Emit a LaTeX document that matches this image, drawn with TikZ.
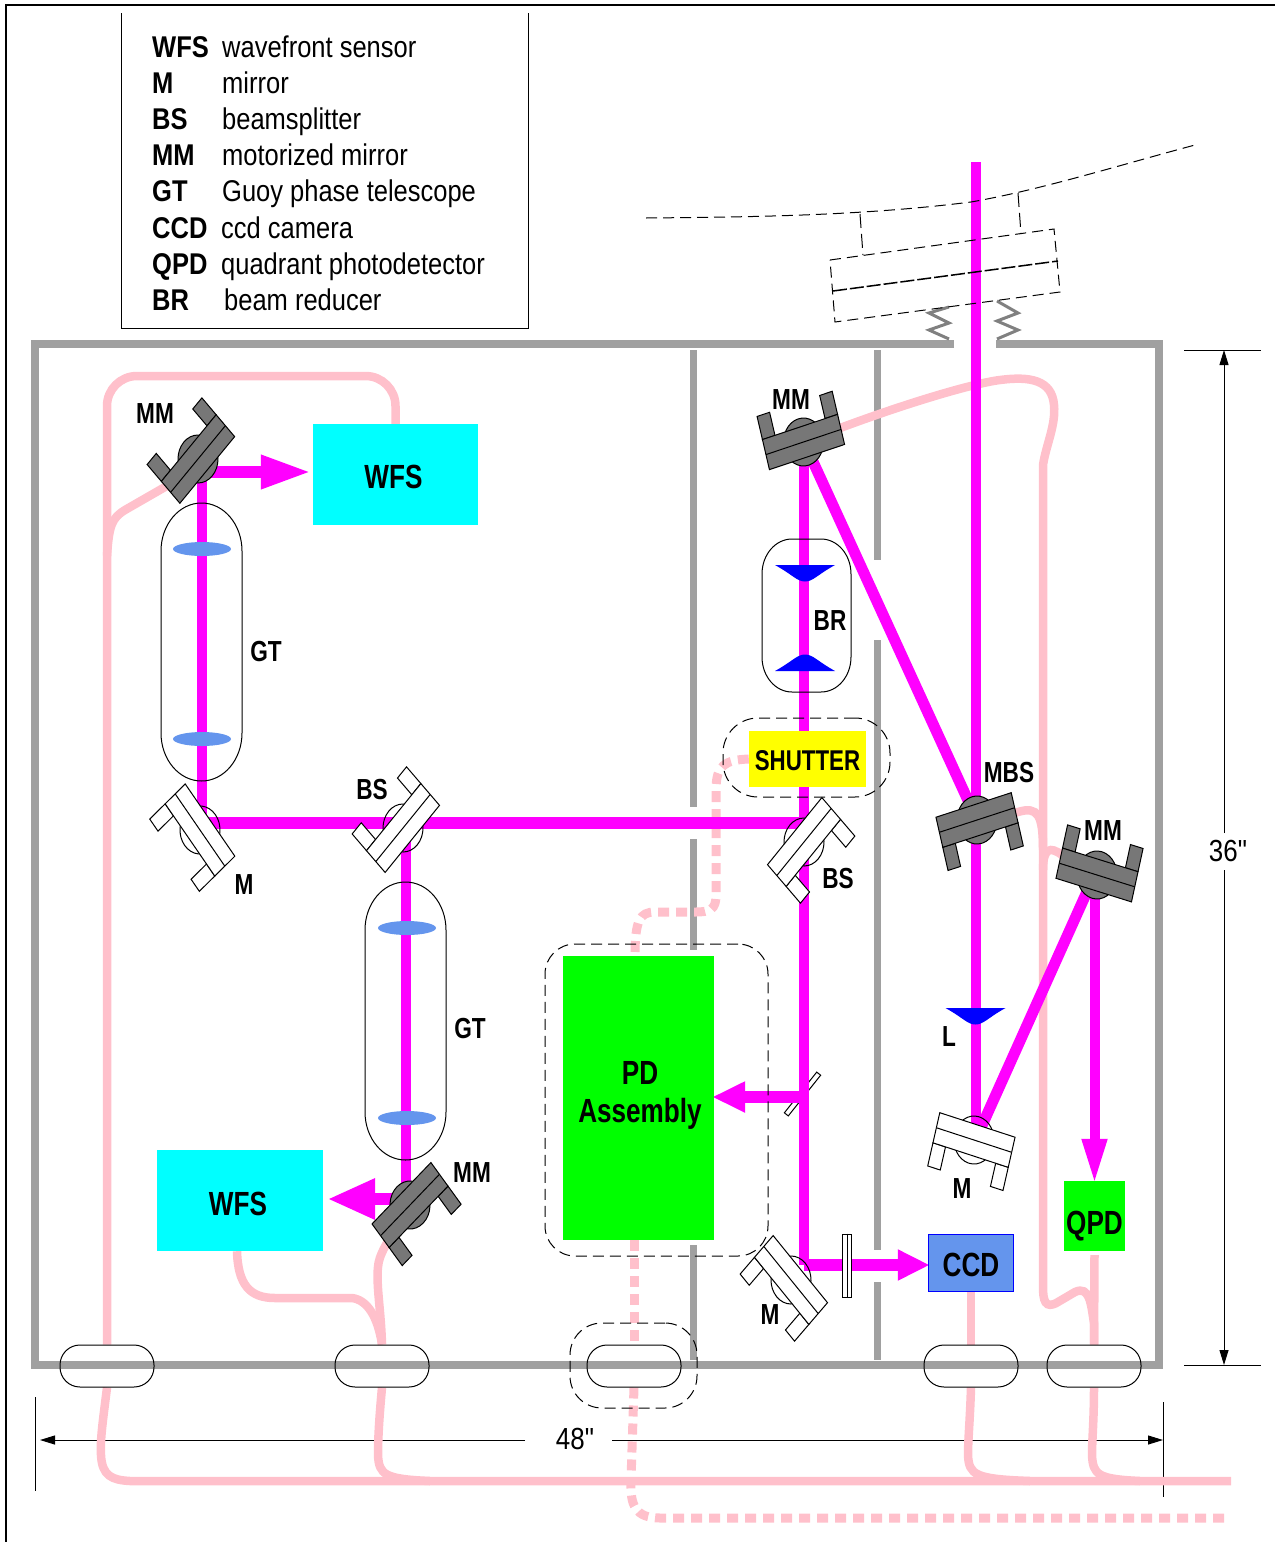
\documentclass[tikz,border=0pt]{standalone}
\usepackage{fontspec}
\setmainfont[FakeStretch=0.85]{Liberation Sans}
\newfontfamily\tallfont[FakeStretch=0.78]{Liberation Sans}
\newfontfamily\dimfont[FakeStretch=0.85]{Liberation Sans}
\usetikzlibrary{arrows.meta,backgrounds}

\definecolor{wallgray}{HTML}{A0A0A0}
\definecolor{mountgray}{HTML}{777777}
\definecolor{fibrepink}{HTML}{FFC0CB}
\definecolor{lensblue}{HTML}{6495ED}
\definecolor{beammagenta}{HTML}{FF00FF}
\definecolor{wfscyan}{HTML}{00FFFF}
\definecolor{pdgreen}{HTML}{00FF00}
\definecolor{pureyellow}{HTML}{FFFF00}
\definecolor{pureblue}{HTML}{0000FF}

\tikzset{
  thinline/.style={black,line width=1pt},
  wall/.style={wallgray,line width=8pt},
  innerwall/.style={wallgray,line width=7pt},
  fibre/.style={fibrepink,line width=8.5pt},
  dashfibre/.style={fibrepink,line width=9pt,dash pattern=on 11pt off 7pt},
  beam/.style={beammagenta,line width=10pt},
  wbeam/.style={beammagenta,line width=12pt},
  dimline/.style={black,line width=1pt},
  dimarrow/.style={black,line width=1pt,-{Triangle[length=15pt,width=9pt]}},
  dashframe/.style={draw,black,line width=1pt,dash pattern=on 11pt off 6pt},
  devicebox/.style={inner sep=0pt,font=\fontsize{33.5}{38}\tallfont\bfseries,align=center},
  partlabel/.style={inner sep=0pt,text height=22.8pt,text depth=0pt,font=\fontsize{29}{32}\tallfont\bfseries},
  feedbox/.style={draw,black,line width=1pt,rounded corners=20pt,minimum width=94pt,minimum height=42pt},
  legendkey/.style={anchor=base west,inner sep=0pt,font=\fontsize{30}{36}\selectfont\bfseries},
  legendtext/.style={anchor=base west,inner sep=0pt,font=\fontsize{30}{36}\selectfont},
  whiteplate/.style={draw=black,line width=1pt,fill=white},
  whitedisc/.style={draw=black,line width=1pt},
  grayplate/.style={draw=black,line width=1pt,fill=mountgray},
  graydisc/.style={draw=black,line width=1pt,fill=mountgray},
}

% name, centre, angle, white or gray
\newcommand{\mirrormount}[4]{
  \coordinate (#1) at (#2);
  \begin{scope}[shift={(#2)},yscale=1.2,rotate=#3]
    \draw[#4disc] (0,0) circle (20pt);
    \draw[#4plate] (-39,-33) rectangle (-26,-13);
    \draw[#4plate] (39,-33) rectangle (26,-13);
    \draw[#4plate] (-39,-13) rectangle (39,13);
    \draw[#4plate] (-39,0) -- (39,0);
  \end{scope}
}
% left, top, right, bottom, corner radii
\newcommand{\tubeoutline}[6]{
  \draw[thinline] ({#1},{#2+#6}) arc[start angle=180,end angle=90,x radius=#5pt,y radius=#6pt]
    -- ({#3-#5},#2) arc[start angle=90,end angle=0,x radius=#5pt,y radius=#6pt]
    -- (#3,{#4-#6}) arc[start angle=0,end angle=-90,x radius=#5pt,y radius=#6pt]
    -- ({#1+#5},#4) arc[start angle=-90,end angle=-180,x radius=#5pt,y radius=#6pt] -- cycle;
}
% centre of flat side, 1 bulges down, -1 bulges up
\newcommand{\lenscap}[2]{
  \begin{scope}[shift={(#1)},yscale=#2]
    \fill[pureblue] (-30,0) -- (30,0) .. controls (12,10) and (8,16.5) .. (0,16.5) .. controls (-8,16.5) and (-12,10) .. (-30,0) -- cycle;
  \end{scope}
}

\begin{document}
\begin{tikzpicture}[x=1pt,y=-1pt]

  \useasboundingbox (0,0) rectangle (1275,1542);

  % page edge
  \draw[black,line width=2pt] (6,1542) -- (6,5) -- (1275,5);

  % legend
  \draw[thinline] (121,13) -- (121,328) -- (528,328) -- (528,13);
  \node[legendkey] (keywfs) at (152,57.5) {WFS};
  \node[legendtext] (txtwfs) at (222,57.5) {wavefront sensor};
  \node[legendkey] (keym) at (152,93.5) {M};
  \node[legendtext] (txtm) at (222,93.5) {mirror};
  \node[legendkey] (keybs) at (152,129.5) {BS};
  \node[legendtext] (txtbs) at (222,129.5) {beamsplitter};
  \node[legendkey] (keymm) at (152,165.5) {MM};
  \node[legendtext] (txtmm) at (222,165.5) {motorized mirror};
  \node[legendkey] (keygt) at (152,201.5) {GT};
  \node[legendtext] (txtgt) at (222,201.5) {Guoy phase telescope};
  \node[legendkey] (keyccd) at (152,238.5) {CCD};
  \node[legendtext] (txtccd) at (221,238.5) {ccd camera};
  \node[legendkey] (keyqpd) at (152,274.5) {QPD};
  \node[legendtext] (txtqpd) at (221,274.5) {quadrant photodetector};
  \node[legendkey] (keybr) at (152,310.5) {BR};
  \node[legendtext] (txtbr) at (224,310.5) {beam reducer};

  % table above the box, all dashed
  \draw[thinline,dash pattern=on 11pt off 6pt] (646,218) .. controls (750,217) and (860,216) .. (971,202) .. controls (1040,190) and (1120,165) .. (1195,145);
  \draw[thinline,dash pattern=on 14pt off 6pt] (860,214) -- (863,255);
  \draw[thinline,dash pattern=on 14pt off 6pt] (1018,193) -- (1021,234);
  \draw[thinline,dash pattern=on 11pt off 6pt] (830,260) -- (1054,229) -- (1060,292) -- (835,322) -- cycle;
  \draw[black,line width=1.5pt,dash pattern=on 14pt off 3pt] (833,291) -- (1058,261);

  % feedthroughs
  \node[feedbox] (feeda) at (107,1366) {};
  \node[feedbox] (feedb) at (382,1366) {};
  \node[feedbox] (feedc) at (634,1366) {};
  \node[feedbox] (feedd) at (971,1366) {};
  \node[feedbox] (feede) at (1094,1366) {};

  % dashed enclosures
  \node[dashframe,rounded corners=30pt,minimum width=223pt,minimum height=312pt] (pdframe) at (656.5,1100) {};
  \node[dashframe,rounded corners=35pt,minimum width=167pt,minimum height=79pt] (shutterframe) at (806.5,757.5) {};
  \node[dashframe,rounded corners=32pt,minimum width=127pt,minimum height=85pt] (feedframe) at (633.5,1365.5) {};

  % devices
  \node[devicebox,fill=wfscyan,text height=29pt,minimum width=165pt,minimum height=101pt] (wfsa) at (395.5,474.5) {\hspace*{-4pt}WFS};
  \node[devicebox,fill=wfscyan,text height=31pt,minimum width=166pt,minimum height=101pt] (wfsb) at (240,1200.5) {\hspace*{-4pt}WFS};
  \node[devicebox,fill=pdgreen,minimum width=151pt,minimum height=284pt] (pd) at (638.5,1098) {};
  \node[devicebox] (pdtext) at (640,1095) {PD\\Assembly};
  \node[devicebox,fill=pureyellow,text height=24pt,minimum width=117pt,minimum height=56pt,font=\fontsize{28.6}{30}\tallfont\bfseries] (shutter) at (807.5,759) {SHUTTER};
  \node[devicebox,draw=pureblue,line width=1.5pt,fill=lensblue,text height=28pt,minimum width=85pt,minimum height=57pt] (ccd) at (971,1263) {CCD};
  \node[devicebox,fill=pdgreen,text height=44pt,minimum width=61pt,minimum height=70pt] (qpd) at (1094.5,1216) {QPD};

  % junctions of the beams and cable ends
  \coordinate (ja) at (202,472);
  \coordinate (jb) at (202,823);
  \coordinate (jc) at (406,823);
  \coordinate (jd) at (804,823);
  \coordinate (je) at (406,1199);
  \coordinate (jf) at (804,442);
  \coordinate (jg) at (804,1265);
  \coordinate (jh) at (975.5,162);
  \coordinate (ji) at (975.5,1140);
  \coordinate (jj) at (1094.5,875);
  \coordinate (jk) at (804,1097);
  \coordinate (fibreend) at (1231,1481);
  \coordinate (dashend) at (1227,1518);

  % telescopes and lenses
  \tubeoutline{161}{503}{242}{781}{40.5}{48}
  \tubeoutline{365}{882}{446}{1160}{40.5}{48}
  \tubeoutline{762}{539}{851}{692}{30}{35}
  \fill[lensblue] (202,549) ellipse (29pt and 7pt);
  \fill[lensblue] (202,739) ellipse (29pt and 7pt);
  \fill[lensblue] (407,928) ellipse (29pt and 7pt);
  \fill[lensblue] (407,1118) ellipse (29pt and 7pt);
  \lenscap{805,565}{1}
  \lenscap{805,671}{-1}
  \lenscap{975.5,1008}{1}

  % waveplate
  \node[draw,black,fill=white,line width=1pt,inner sep=0pt,minimum width=9pt,minimum height=63pt] (waveplate) at (847,1265.5) {};
  \draw[thinline] (waveplate.north) -- (waveplate.south);

  % mirrors
  \mirrormount{mma}{198,459}{45.4}{gray}
  \mirrormount{ma}{200,830}{129.5}{white}
  \mirrormount{bsa}{403,828}{45.8}{white}
  \mirrormount{bsb}{804,842}{225.8}{white}
  \mirrormount{mmb}{803.5,442}{15.6}{gray}
  \mirrormount{mbs}{977,820}{195.2}{gray}
  \mirrormount{mmc}{1097,875}{-14.6}{gray}
  \mirrormount{mb}{974,1140}{164.8}{white}
  \mirrormount{mc}{791,1280}{134.2}{white}
  \mirrormount{mmd}{410,1205}{221}{gray}

  % labels
  \node[partlabel] (lmma) at (155,412) {MM};
  \node[partlabel] (lgta) at (266,650) {GT};
  \node[partlabel] (lma) at (244,883) {M};
  \node[partlabel] (lbsa) at (372,788) {BS};
  \node[partlabel] (lgtb) at (470,1027) {GT};
  \node[partlabel] (lmmd) at (472,1171) {MM};
  \node[partlabel] (lmmb) at (791,398) {MM};
  \node[partlabel] (lbr) at (830,619) {BR};
  \node[partlabel] (lmbs) at (1009,771) {MBS};
  \node[partlabel] (lmmc) at (1103,829) {MM};
  \node[partlabel] (lbsb) at (838,877) {BS};
  \node[partlabel] (ll) at (949,1035) {L};
  \node[partlabel] (lmb) at (962,1187) {M};
  \node[partlabel] (lmc) at (770,1313) {M};

  % dimensions
  \node[inner sep=0pt,font=\fontsize{30.5}{36}\dimfont] (dimh) at (1228,851) {36"};
  \node[inner sep=0pt,font=\fontsize{30.5}{36}\dimfont] (dimw) at (575,1439) {48"};
  \coordinate (dhtop) at (1224,350);
  \coordinate (dhbot) at (1224,1365);
  \coordinate (dwleft) at (40,1440);
  \coordinate (dwright) at (1163,1440);
  \coordinate (gapa) at (525,1440);
  \coordinate (gapb) at (612,1440);

  \begin{scope}[on background layer]

    \draw[dimline] (1184,350) -- (1261,350);
    \draw[dimline] (1184,1365) -- (1261,1365);
    \draw[dimline] (35,1397) -- (35,1491);
    \draw[dimline] (1163,1402) -- (1163,1497);
    \draw[dimarrow] (dhtop |- dimh.north) ++(0,-7) -- (dhtop);
    \draw[dimarrow] (dhtop |- dimh.south) ++(0,8) -- (dhbot);
    \draw[dimarrow] (gapa) -- (dwleft);
    \draw[dimarrow] (gapb) -- (dwright);

    % box walls
    \draw[wall] (954,344) -- (35,344) -- (35,1365) -- (1159,1365) -- (1159,344) -- (996,344);
    \draw[innerwall] (693,350) -- (693,807);
    \draw[innerwall] (693,839) -- (693,950);
    \draw[innerwall] (693,1245) -- (693,1360);
    \draw[innerwall] (877,350) -- (877,560);
    \draw[innerwall] (877,640) -- (877,1250);
    \draw[innerwall] (877,1282) -- (877,1360);

    % springs
    \draw[gray,line width=3pt] (949,307) -- (929,313) -- (949,323) -- (929,330) -- (949,339);
    \draw[gray,line width=3pt] (997,301) -- (1018,313) -- (997,321) -- (1018,330) -- (997,339);

    % cables
    \draw[fibre,rounded corners=30pt] (feeda.north) -- (107,376) -- (395.5,376) -- (wfsa.north);
    \draw[fibre] (107,556) .. controls (109,525) and (112,518) .. (125,510) -- (165,487) -- (mma);
    \draw[fibre] (feedb.north) .. controls (381,1310) and (376,1285) .. (378,1267) .. controls (379,1255) and (385,1245) .. (mmd);
    \draw[fibre] (wfsb.south -| 237,0) .. controls (238,1285) and (250,1298) .. (275,1298) -- (352,1298) .. controls (368,1300) and (378,1318) .. (feedb.north);
    \draw[fibre] (feeda.south) .. controls (103,1420) and (100,1440) .. (101,1455) .. controls (102,1476) and (112,1480) .. (130,1481) -- (fibreend);
    \draw[fibre] (feedb.south) .. controls (379,1420) and (378,1440) .. (378,1455) .. controls (379,1475) and (385,1479) .. (430,1481);
    \draw[fibre] (ccd.south) -- (feedd.north);
    \draw[fibre] (feedd.south) .. controls (970,1420) and (968,1440) .. (968,1455) .. controls (969,1475) and (975,1479) .. (1030,1481);
    \draw[fibre] (feede.south) .. controls (1094,1420) and (1092,1440) .. (1092,1455) .. controls (1093,1475) and (1098,1479) .. (1140,1481);
    \draw[fibre] (qpd.south) ++(0,4) -- (feede.north);
    \draw[fibre] (feede.north) -- (1094,1323) .. controls (1091,1305) and (1090,1285) .. (1075,1292) -- (1058,1302) .. controls (1045,1310) and (1043,1300) .. (1043,1287) -- (1043,465) .. controls (1046,445) and (1056,425) .. (1054,405) .. controls (1052,380) and (1030,376) .. (1000,380) .. controls (975,383) and (900,404) .. (mmb);
    \draw[fibre] (mbs) -- (1018,812) .. controls (1038,806) and (1043,815) .. (1043,850);
    \draw[fibre] (mmc) -- (1062,855) .. controls (1050,846) and (1043,848) .. (1043,870);
    \draw[dashfibre] (shutter.west) .. controls (725,760) and (716,765) .. (716,790) -- (716,895) .. controls (716,910) and (710,912) .. (695,912) -- (655,912) .. controls (640,912) and (635,920) .. (pd.north -| 635,0);
    \draw[dashfibre] (pd.south -| 634,0) -- (feedc.north);
    \draw[dashfibre] (feedc.south) -- (631,1480) .. controls (630,1505) and (635,1518) .. (660,1518) -- (dashend);

    % pick-off plate stays under the beam
    \node[draw,black,fill=white,line width=1pt,inner sep=0pt,minimum width=52pt,minimum height=5pt,rotate=51.5] (pickoff) at (802.5,1094) {};

    % beams
    \draw[beam] (jh) -- (ji);
    \draw[beam] (mma |- 0,459) ++(4,0) -- (jb);
    \draw[wbeam] (jb) -- (jd);
    \draw[beam] (jc) -- (je);
    \draw[beam] (jf) -- (jg);
    \draw[wbeam,-{Triangle[length=32pt,width=29pt]},shorten >=-2pt] (jg) -- (ccd.west |- jg);
    \draw[wbeam,-{Triangle[length=51pt,width=31pt]},shorten >=1pt] (ja) -- (wfsa.west |- ja);
    \draw[wbeam,-{Triangle[length=48pt,width=38pt]},shorten >=4pt] (je) -- (wfsb.east |- je);
    \draw[wbeam,-{Triangle[length=33pt,width=29pt]},shorten >=-2pt] (jk) -- (pd.east |- jk);
    \draw[beam,-{Triangle[length=46pt,width=23pt]},shorten >=-4pt] (jj) -- (jj |- qpd.north);
    \draw[beammagenta,line width=11pt] (jf) -- (mbs);
    \draw[beammagenta,line width=11pt] (jj) -- (ji);

  \end{scope}

\end{tikzpicture}
\end{document}
